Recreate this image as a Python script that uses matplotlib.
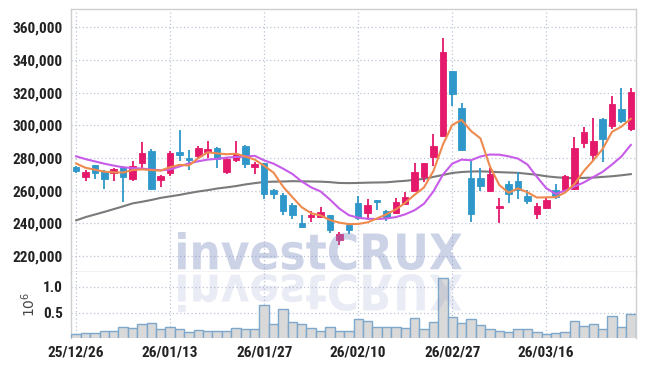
## candlestick chart with moving averages and volume panel

import numpy as np
import matplotlib
matplotlib.use("Agg")
import matplotlib.pyplot as plt
from matplotlib import font_manager
from matplotlib.font_manager import FontProperties
from matplotlib.textpath import TextPath
from matplotlib.patches import PathPatch
from matplotlib.transforms import Affine2D

dates = ["25/12/26", "25/12/29", "25/12/30", "26/01/02", "26/01/05", "26/01/06", "26/01/07",
         "26/01/08", "26/01/09", "26/01/12", "26/01/13", "26/01/14", "26/01/15", "26/01/16",
         "26/01/19", "26/01/20", "26/01/21", "26/01/22", "26/01/23", "26/01/26", "26/01/27",
         "26/01/28", "26/01/29", "26/01/30", "26/02/02", "26/02/03", "26/02/04", "26/02/05",
         "26/02/06", "26/02/09", "26/02/10", "26/02/11", "26/02/12", "26/02/13", "26/02/19",
         "26/02/20", "26/02/23", "26/02/24", "26/02/25", "26/02/26", "26/02/27", "26/03/03",
         "26/03/04", "26/03/05", "26/03/06", "26/03/09", "26/03/10", "26/03/11", "26/03/12",
         "26/03/13", "26/03/16", "26/03/17", "26/03/18", "26/03/19", "26/03/20", "26/03/23",
         "26/03/24", "26/03/25", "26/03/26", "26/03/27"]

# prices in thousand won
opens = [274.6, 268.5, 275.6, 272.1, 271.1, 274.4, 267.0, 276.8, 284.5, 266.8,
         271.1, 283.7, 279.9, 281.3, 283.9, 286.0, 271.7, 278.7, 287.4, 274.7,
         276.8, 260.5, 257.4, 251.3, 239.9, 244.0, 244.0, 244.8, 229.9, 239.2,
         252.7, 246.2, 254.1, 247.5, 246.2, 251.9, 260.0, 268.6, 280.5, 293.5,
         333.3, 310.6, 267.8, 268.0, 259.5, 249.3, 264.2, 265.6, 256.8, 245.6,
         249.6, 260.5, 260.5, 260.9, 289.1, 281.9, 303.9, 299.8, 310.0, 298.0]
highs = [275.0, 272.5, 276.0, 272.8, 274.1, 274.8, 278.2, 289.7, 285.4, 269.7,
         284.3, 297.0, 285.0, 287.6, 290.5, 286.5, 280.5, 290.5, 288.0, 277.4,
         277.0, 260.8, 258.5, 252.4, 245.2, 247.5, 249.7, 245.2, 234.6, 240.1,
         256.8, 254.8, 254.4, 248.3, 255.4, 259.1, 276.8, 277.0, 294.6, 353.3,
         333.5, 313.5, 278.8, 273.8, 274.1, 255.4, 265.6, 271.7, 260.1, 252.4,
         255.2, 264.2, 269.3, 292.7, 298.8, 304.3, 304.2, 318.0, 322.9, 322.7]
lows = [271.0, 265.6, 267.0, 260.9, 265.6, 253.0, 265.6, 273.8, 260.5, 262.5,
        269.2, 278.2, 272.7, 279.9, 279.9, 273.8, 270.1, 277.8, 273.8, 270.1,
        255.0, 255.0, 244.8, 242.8, 237.4, 240.5, 243.5, 234.0, 226.5, 233.4,
        242.0, 242.2, 248.3, 241.7, 245.6, 251.2, 259.5, 265.2, 275.2, 292.7,
        311.9, 284.5, 240.5, 259.5, 258.9, 240.1, 252.4, 254.8, 251.9, 242.6,
        248.6, 255.0, 260.0, 260.2, 286.0, 278.4, 277.4, 297.8, 301.7, 296.8]
closes = [272.1, 271.5, 271.1, 267.4, 273.3, 268.6, 275.0, 282.9, 261.3, 269.0,
          283.1, 282.1, 279.0, 286.2, 285.6, 279.6, 279.4, 282.7, 276.6, 276.4,
          257.9, 257.9, 247.8, 244.8, 237.9, 244.8, 247.2, 236.0, 233.2, 235.8,
          243.2, 251.3, 253.2, 243.0, 253.0, 256.4, 271.5, 276.8, 287.4, 344.9,
          319.0, 284.8, 245.8, 263.1, 270.1, 250.9, 257.9, 260.5, 253.9, 250.3,
          254.4, 256.4, 268.9, 286.0, 295.8, 290.5, 291.9, 313.1, 302.9, 320.2]

ma5 = [276.6, 274.0, 272.8, 271.6, 271.2, 271.1, 272.6, 273.0, 272.6, 272.3,
       274.4, 275.8, 275.4, 279.9, 283.5, 282.8, 282.3, 282.6, 280.9, 279.0,
       275.2, 271.0, 262.5, 256.0, 249.8, 246.2, 244.8, 242.0, 240.4, 239.5,
       239.6, 240.6, 243.0, 245.5, 248.5, 252.5, 257.5, 262.0, 272.0, 288.0,
       300.2, 303.3, 296.5, 292.0, 275.0, 263.5, 258.7, 261.4, 259.0, 255.8,
       255.9, 256.0, 258.8, 264.0, 272.0, 278.5, 285.5, 296.0, 299.2, 304.0]
ma20 = [281.0, 279.3, 277.9, 276.5, 275.3, 274.3, 273.8, 273.5, 272.9, 272.4,
        273.0, 274.8, 276.7, 278.0, 279.0, 279.5, 280.2, 280.6, 280.9, 281.3,
        278.5, 276.5, 273.5, 270.2, 265.6, 262.0, 259.5, 254.5, 249.0, 245.0,
        243.4, 242.8, 242.6, 243.0, 243.8, 245.5, 248.0, 252.0, 259.5, 269.7,
        276.5, 279.0, 278.6, 280.9, 282.1, 282.0, 281.0, 279.6, 276.0, 268.5,
        261.5, 258.0, 260.0, 262.5, 265.0, 268.3, 271.5, 276.0, 280.9, 288.0]
ma60 = [241.8, 243.8, 245.4, 247.0, 248.7, 250.4, 252.2, 253.2, 254.3, 255.6,
        256.5, 257.4, 258.5, 259.5, 260.3, 261.3, 262.0, 262.8, 263.8, 264.6,
        265.3, 265.5, 265.6, 265.8, 265.7, 265.6, 265.5, 265.2, 264.7, 264.6,
        264.7, 264.9, 265.0, 265.1, 265.6, 266.0, 266.6, 267.2, 268.4, 269.6,
        270.8, 271.4, 271.7, 271.8, 271.6, 271.3, 271.1, 270.9, 270.3, 269.7,
        268.8, 268.2, 267.8, 267.6, 267.8, 268.0, 268.4, 268.8, 269.4, 270.1]

# volume in shares
volume = [85000, 100000, 100000, 140000, 140000, 220000, 200000, 280000, 300000, 180000,
          225000, 180000, 120000, 160000, 155000, 155000, 155000, 200000, 180000, 180000,
          650000, 280000, 565000, 330000, 280000, 200000, 155000, 220000, 155000, 155000,
          370000, 350000, 225000, 225000, 225000, 200000, 390000, 180000, 330000, 1160000,
          420000, 300000, 385000, 260000, 190000, 155000, 135000, 180000, 180000, 135000,
          85000, 115000, 135000, 345000, 240000, 280000, 180000, 435000, 220000, 475000]

tick_idx = [0, 10, 20, 30, 40, 50]

# pick a narrow font for the tick labels if one is installed
fonts = font_manager.fontManager.ttflist
names = {f.name for f in fonts}
tick_prop = dict(family="Liberation Sans", size=9.5)
for nm in ["Roboto Condensed", "Open Sans Condensed", "Liberation Sans Narrow"]:
    if nm in names:
        tick_prop = dict(family=nm, size=11)
        break
else:
    if any(f.name == "DejaVu Sans" and f.stretch == "condensed" and f.weight == 700
           for f in fonts):
        tick_prop = dict(family="DejaVu Sans", size=9.5, stretch="condensed")

UP = "#e5196b"
DOWN = "#2f97c9"
GRID = "#bfc3d6"
SPINE = "#cfcfcf"

o = np.array(opens) * 1000
h = np.array(highs) * 1000
l = np.array(lows) * 1000
c = np.array(closes) * 1000
x = np.arange(len(dates))
col = [UP if cc >= oo else DOWN for oo, cc in zip(o, c)]

W, H = 645, 366
fig = plt.figure(figsize=(W / 100, H / 100), dpi=100)
ax = fig.add_axes([71 / W, (H - 272) / H, 565 / W, (272 - 9.3) / H])
axv = fig.add_axes([71 / W, (H - 337.5) / H, 565 / W, (337.5 - 272) / H], sharex=ax)

# candles
ax.vlines(x, l, h, colors=col, linewidth=1.3, zorder=3)
body_h = np.maximum(np.abs(c - o), 600)
ax.bar(x, body_h, bottom=np.minimum(o, c), width=0.7, color=col, edgecolor=col,
       linewidth=0.6, zorder=4)

ax.plot(x, np.array(ma60) * 1000, color="#7a7a7a", lw=1.5, zorder=2)
ax.plot(x, np.array(ma20) * 1000, color="#c75ce8", lw=1.5, zorder=5)
ax.plot(x, np.array(ma5) * 1000, color="#ef8a4e", lw=1.5, zorder=5)

ax.set_xlim(-0.55, 59.55)
ax.set_ylim(210200, 371000)
ax.set_yticks(np.arange(220000, 360001, 20000))
ax.set_yticklabels(["{:,}".format(v) for v in range(220000, 360001, 20000)])

# volume
axv.bar(x, np.array(volume) / 1e6, width=1.0, color="#d9d9d9", edgecolor="#7ea8cb",
        linewidth=1.0, zorder=3)
axv.set_ylim(0.023, 1.283)
axv.set_yticks([0.5, 1.0])
axv.set_yticklabels(["0.5", "1.0"])
axv.set_xticks(tick_idx)
axv.set_xticklabels([dates[i] for i in tick_idx])
axv.set_ylabel(r"$10^6$", fontsize=10, color="#444444")
axv.yaxis.set_label_coords(-0.058, 0.5)

for a in (ax, axv):
    a.grid(True, color=GRID, linestyle=(0, (1, 2)), linewidth=0.9, zorder=0)
    a.set_axisbelow(True)
    a.tick_params(length=0, pad=6, labelcolor="#222222")
    for lab in a.get_xticklabels() + a.get_yticklabels():
        lab.set_fontproperties(FontProperties(weight="bold", **tick_prop))
    for s in a.spines.values():
        s.set_color(SPINE)
        s.set_linewidth(1.0)
ax.set_xticks(tick_idx)
ax.tick_params(labelbottom=False)
ax.spines["bottom"].set_color("#c4c4c4")
axv.spines["top"].set_visible(False)
axv.spines["bottom"].set_visible(False)

# watermark with mirrored reflection
fp = FontProperties(family="DejaVu Sans", weight="bold")
tp = TextPath((0, 0), "investCRUX", size=100, prop=fp)
ext = tp.get_extents()
sx = 284 / ext.width
sy = 38 / ext.height
wm = Affine2D().translate(-ext.x0, -ext.y0).scale(sx, sy).translate(178, H - 270)
rf = Affine2D().translate(-ext.x0, -ext.y0).scale(sx, -sy).translate(178, H - 274)
fig.add_artist(PathPatch(tp, transform=wm, facecolor="#8291c5", edgecolor="none",
                         alpha=0.4, zorder=10))
fig.add_artist(PathPatch(tp, transform=rf, facecolor="#8291c5", edgecolor="none",
                         alpha=0.17, zorder=10))

fig.savefig("out.png", dpi=100)
